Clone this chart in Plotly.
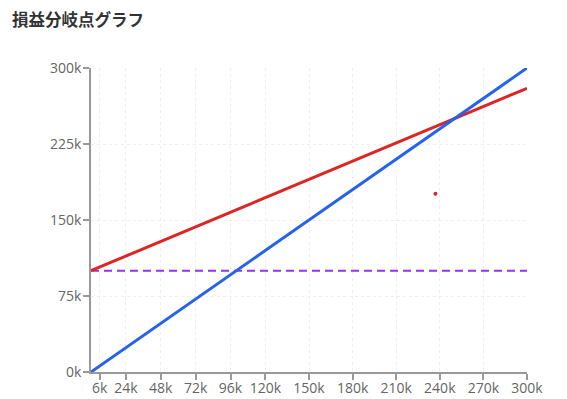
import plotly.graph_objects as go

title_text = "損益分岐点グラフ"
x_vals = [0, 300000]
revenue = [0, 300000]
total_cost = [100000, 280000]
fixed_cost = [100000, 100000]
dot_x = [237000]
dot_y = [176000]
x_tickvals = [6000, 24000, 48000, 72000, 96000, 120000, 150000, 180000, 210000, 240000, 270000, 300000]
x_ticktext = ["6k", "24k", "48k", "72k", "96k", "120k", "150k", "180k", "210k", "240k", "270k", "300k"]
y_tickvals = [0, 75000, 150000, 225000, 300000]
y_ticktext = ["0k", "75k", "150k", "225k", "300k"]

fig = go.Figure()
fig.add_trace(go.Scatter(x=x_vals, y=fixed_cost, mode="lines",
                         line=dict(color="#9333ea", width=2, dash="8px,5px"), cliponaxis=False, name="固定費"))
fig.add_trace(go.Scatter(x=x_vals, y=total_cost, mode="lines",
                         line=dict(color="#dc2626", width=3), cliponaxis=False, name="総費用"))
fig.add_trace(go.Scatter(x=x_vals, y=revenue, mode="lines",
                         line=dict(color="#2563eb", width=3), cliponaxis=False, name="売上高"))
fig.add_trace(go.Scatter(x=dot_x, y=dot_y, mode="markers",
                         marker=dict(color="#dc2626", size=4), cliponaxis=False, name="点"))

axis_common = dict(
    showline=True, linecolor="#999", linewidth=1.5,
    ticks="outside", ticklen=6, tickcolor="#999", tickwidth=1.5,
    showgrid=True, gridcolor="#eeeeee", griddash="3px,3px", gridwidth=1,
    zeroline=False, automargin=False,
    tickfont=dict(family="Open Sans, Noto Sans CJK JP, sans-serif", size=14, color="#666"),
)

fig.update_layout(
    width=567, height=399,
    margin=dict(l=91, r=40, t=68, b=27),
    paper_bgcolor="white", plot_bgcolor="white",
    showlegend=False,
    title=dict(text="<b>" + title_text + "</b>", x=12 / 567, xanchor="left", y=1 - 20 / 399, yanchor="middle",
               font=dict(family="Noto Sans CJK JP", size=16.5, color="#333")),
    xaxis=dict(range=[0, 300000], tickvals=x_tickvals, ticktext=x_ticktext, ticklabelstandoff=-4, **axis_common),
    yaxis=dict(range=[0, 300000], tickvals=y_tickvals, ticktext=y_ticktext, ticklabelstandoff=-1, **axis_common),
)

fig.write_html("out.html", config={"displayModeBar": False},
               post_script="document.body.style.margin='0';")
